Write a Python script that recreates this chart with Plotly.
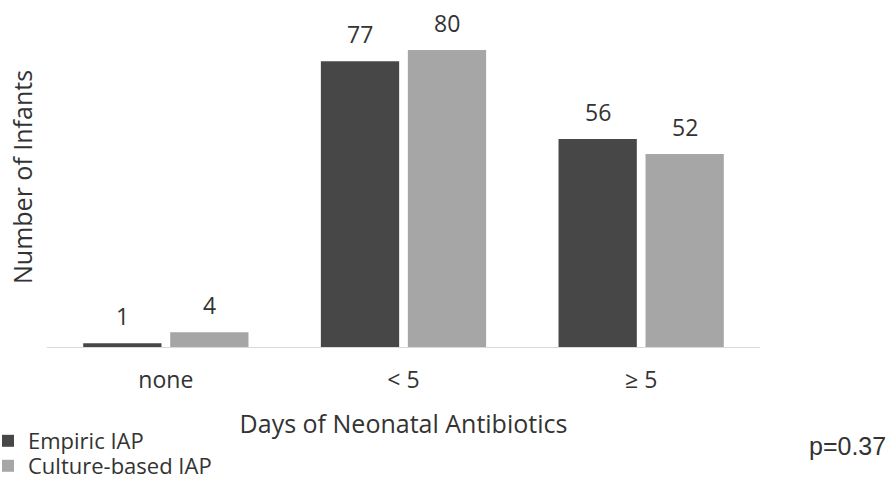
import plotly.graph_objects as go

categories = ["none", "< 5", "≥ 5"]
empiric = [1, 77, 56]
culture = [4, 80, 52]
series_names = ["Empiric IAP", "Culture-based IAP"]
colors = ["#474747", "#a6a6a6"]

FONT = "'Open Sans', 'Noto Sans', sans-serif"
TXT = "#333333"
BARGAP = 0.268
BARGROUPGAP = 0.10
L, R, T, B = 47, 131, 50, 137
PW, PH = 891 - L - R, 484 - T - B

fig = go.Figure()
legend_ids = ["legend", "legend2"]
for name, vals, col, lg in zip(series_names, [empiric, culture], colors, legend_ids):
    fig.add_trace(go.Bar(x=categories, y=vals, name=name, marker_color=col,
                         marker_line_width=0, legend=lg))

# value labels above the bars
off = (1 - BARGAP) / 4
for k, vals in enumerate([empiric, culture]):
    sign = -1 if k == 0 else 1
    for i, v in enumerate(vals):
        fig.add_annotation(x=i + sign * off, y=v, xref="x", yref="y", text=str(v),
                           showarrow=False, yanchor="middle", yshift=27,
                           font=dict(family=FONT, size=23, color=TXT))

fig.add_annotation(text="Number of Infants", textangle=-90, xref="paper", yref="paper",
                   x=(22 - L) / PW, y=(347 - 177) / PH, showarrow=False,
                   xanchor="center", yanchor="middle",
                   font=dict(family=FONT, size=25, color=TXT))
fig.add_annotation(text="p=0.37", xref="paper", yref="paper",
                   x=(847 - L) / PW, y=(347 - 446) / PH, showarrow=False,
                   xanchor="center", yanchor="middle",
                   font=dict(family="'Liberation Sans', Arial, sans-serif", size=25, color=TXT))

legend_style = dict(xref="paper", yref="paper", x=(-12 - L) / PW,
                    xanchor="left", yanchor="middle", orientation="v",
                    font=dict(family=FONT, size=22, color=TXT),
                    itemwidth=30, bgcolor="rgba(0,0,0,0)", borderwidth=0)

fig.update_layout(
    width=891, height=484,
    margin=dict(l=L, r=R, t=T, b=B, autoexpand=False),
    paper_bgcolor="white", plot_bgcolor="white",
    barmode="group", bargap=BARGAP, bargroupgap=BARGROUPGAP,
    font=dict(family=FONT, size=23, color=TXT),
    xaxis=dict(showline=True, linecolor="#d9d9d9", linewidth=1, ticks="",
               showgrid=False, tickfont=dict(size=23, color=TXT),
               ticklabelstandoff=12, automargin=False,
               title=dict(text="Days of Neonatal Antibiotics", standoff=21,
                          font=dict(size=25, color=TXT))),
    yaxis=dict(range=[0, 80], visible=False, showgrid=False, automargin=False),
    showlegend=True,
    legend=dict(legend_style, y=(347 - 441) / PH),
    legend2=dict(legend_style, y=(347 - 466) / PH),
)

fig.write_html("out.html", config={"displayModeBar": False},
               post_script="document.body.style.margin='0px';")
